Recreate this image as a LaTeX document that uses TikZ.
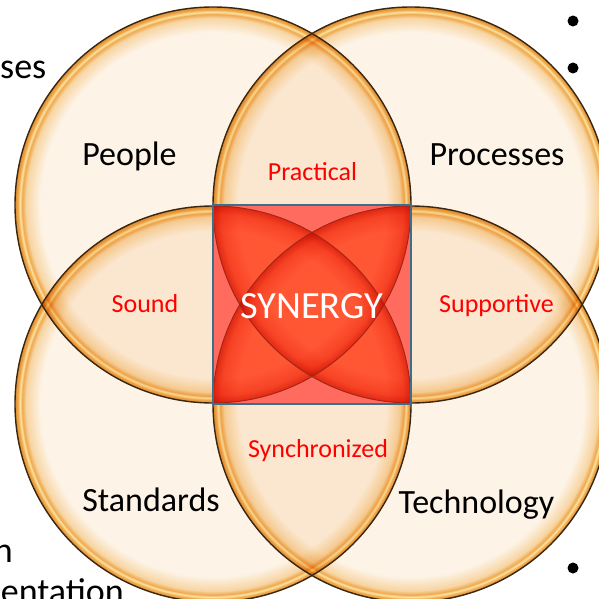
\documentclass[tikz,border=0pt]{standalone}
\usepackage{fontspec}
\setmainfont{Carlito}
\definecolor{cream}{HTML}{FDF3E6}
\definecolor{fadeA}{HTML}{F7D5A2}
\definecolor{rimA}{HTML}{EFA84E}
\definecolor{rimLight}{HTML}{FCE5A2}
\definecolor{rimB}{HTML}{DD8E2C}
\definecolor{circline}{HTML}{3A2610}
\definecolor{sqpink}{HTML}{FF6B5E}
\definecolor{petal}{HTML}{FF5634}
\definecolor{redrimA}{HTML}{F7C7B8}
\definecolor{redrimB}{HTML}{E07A66}
\definecolor{arcred}{HTML}{A02614}
\definecolor{sqblue}{HTML}{3C6E8E}
\definecolor{labred}{HTML}{FF0000}
\pgfdeclareradialshading{ringshade}{\pgfpoint{0bp}{0bp}}{%
  color(0bp)=(cream); color(21.8bp)=(cream); color(23.6bp)=(fadeA);
  color(24.1bp)=(rimA); color(24.35bp)=(rimLight); color(24.65bp)=(rimA);
  color(25bp)=(rimB); color(50bp)=(rimB)}
\pgfdeclareradialshading{redrimshade}{\pgfpoint{0bp}{0bp}}{%
  color(0bp)=(white); color(22bp)=(white); color(24bp)=(redrimA);
  color(25bp)=(redrimB); color(50bp)=(redrimB)}
\tikzset{
  ringfill/.style={shading=ringshade},
  ringline/.style={draw=circline,line width=1.4bp},
  arcline/.style={draw=arcred,line width=0.9bp},
  sqline/.style={draw=sqblue,line width=1.6bp},
  blacklab/.style={anchor=base,inner sep=0pt,text=black,font=\fontsize{34bp}{40bp}\selectfont},
  redlab/.style={anchor=base,inner sep=0pt,text=labred,font=\fontsize{26bp}{30bp}\selectfont},
  synlab/.style={anchor=base,inner sep=0pt,text=white,font=\fontsize{38.5bp}{44bp}\selectfont},
  bgtext/.style={inner sep=0pt,text=black,font=\fontsize{36bp}{42bp}\selectfont},
  bulletdot/.style={circle,fill=black,inner sep=0pt,minimum size=11bp}
}
\begin{document}
\begin{tikzpicture}[x=1bp,y=-1bp]
\useasboundingbox (0,0) rectangle (599,599);
\fill[white] (0,0) rectangle (599,599);
\def\R{198}
\coordinate (tl) at (213,205);
\coordinate (tr) at (411,205);
\coordinate (bl) at (213,404);
\coordinate (br) at (411,404);
% background slide text fragments
\node[bgtext,anchor=base west] (ses) at (0,79) {ses};
\node[bgtext,anchor=base east] (nfrag) at (13,562) {n};
\node[bgtext,anchor=base east] (entation) at (124,603) {entation};
% circles
\begin{scope}[blend mode=multiply]
  \foreach \c in {tl,tr,bl,br} \shade[ringfill] (\c) circle[radius=\R];
\end{scope}
\foreach \c in {tl,tr,bl,br} \draw[ringline] (\c) circle[radius=\R];
% central square
\begin{scope}
  \clip (tl) rectangle (br);
  \fill[sqpink] (tl) rectangle (br);
  \foreach \a/\b/\cc in {tl/tr/bl,tl/tr/br,tl/bl/br,tr/bl/br}{
    \begin{scope}
      \clip (\a) circle[radius=\R];
      \clip (\b) circle[radius=\R];
      \fill[petal] (\cc) circle[radius=\R];
    \end{scope}
  }
  \begin{scope}[blend mode=multiply]
    \foreach \c in {tl,tr,bl,br} \shade[shading=redrimshade] (\c) circle[radius=\R];
  \end{scope}
  \foreach \c in {tl,tr,bl,br} \draw[arcline] (\c) circle[radius=\R];
\end{scope}
\draw[sqline] (tl) rectangle (br);
% labels
\node[blacklab] (people) at (129.5,166) {People};
\node[blacklab] (processes) at (497,166) {Processes};
\node[blacklab] (standards) at (151,511) {Standards};
\node[blacklab] (technology) at (476.5,513) {Technology};
\node[redlab] (practical) at (312.5,180) {Practical};
\node[redlab] (sound) at (145,312) {Sound};
\node[redlab] (supportive) at (496.5,312) {Supportive};
\node[redlab] (synchronized) at (318,457) {Synchronized};
\node[synlab] (synergy) at (311.5,318) {SYNERGY};
% bullets
\node[bulletdot] (b1) at (573,21) {};
\node[bulletdot] (b2) at (573,68) {};
\node[bulletdot] (b3) at (573,568) {};
\end{tikzpicture}
\end{document}
